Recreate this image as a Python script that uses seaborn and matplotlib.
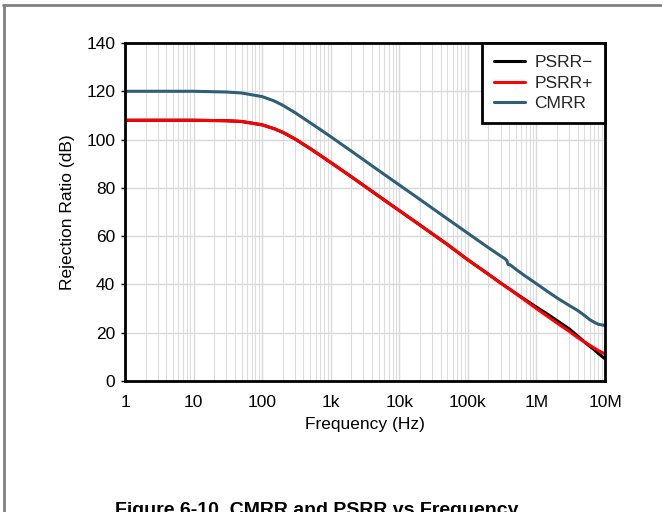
import numpy as np
import pandas as pd
import matplotlib
matplotlib.use("Agg")
import matplotlib.pyplot as plt
from matplotlib.lines import Line2D
from matplotlib.ticker import FixedLocator, LogLocator, NullFormatter
import seaborn as sns

# ---- data ----
freq = [1, 10, 30, 50, 100, 150, 200, 300, 500, 700,
        1e3, 2e3, 5e3, 1e4, 2e4, 5e4, 1e5, 2e5, 3e5, 3.5e5,
        3.7e5, 3.85e5, 4.1e5, 5e5, 7e5, 1e6, 1.5e6, 2e6, 3e6, 4e6,
        5e6, 6e6, 7e6, 8e6, 1e7]

cmrr = [120.0, 120.0, 119.7, 119.3, 117.8, 116.0, 114.2, 111.2, 107.0, 104.2,
        101.2, 95.2, 87.2, 81.2, 75.2, 67.2, 61.2, 55.2, 51.8, 50.6,
        49.9, 48.3, 48.2, 46.3, 43.3, 40.3, 36.8, 34.4, 31.3, 29.2,
        27.2, 25.4, 24.3, 23.5, 23.0]

psrr_p = [108.0, 108.0, 107.8, 107.5, 106.1, 104.5, 103.0, 100.3, 96.3, 93.5,
          90.5, 84.6, 76.6, 70.6, 64.6, 56.6, 50.2, 44.2, 40.6, 39.3,
          38.8, 38.5, 38.0, 36.2, 33.2, 30.0, 26.5, 24.0, 20.6, 18.0,
          16.2, 14.8, 13.6, 12.6, 11.2]

psrr_m = [108.0, 108.0, 107.8, 107.5, 106.1, 104.5, 103.0, 100.3, 96.3, 93.5,
          90.5, 84.6, 76.6, 70.6, 64.6, 56.6, 50.2, 44.2, 40.6, 39.3,
          38.8, 38.5, 38.0, 36.3, 33.5, 30.6, 27.4, 25.0, 21.6, 18.6,
          16.2, 14.4, 12.9, 11.4, 9.2]

xticks = [1, 10, 100, 1e3, 1e4, 1e5, 1e6, 1e7]
xticklabels = ["1", "10", "100", "1k", "10k", "100k", "1M", "10M"]
yticks = [0, 20, 40, 60, 80, 100, 120, 140]

series_names = ["PSRR\u2212", "PSRR+", "CMRR"]
colors = {"PSRR\u2212": "#000000", "PSRR+": "#FF0000", "CMRR": "#2E5E78"}

df = pd.concat([
    pd.DataFrame({"freq": freq, "dB": psrr_m, "series": series_names[0]}),
    pd.DataFrame({"freq": freq, "dB": psrr_p, "series": series_names[1]}),
    pd.DataFrame({"freq": freq, "dB": cmrr, "series": series_names[2]}),
])

sns.set_theme(style="white")
plt.rcParams["font.family"] = ["Liberation Sans", "DejaVu Sans"]

fig = plt.figure(figsize=(6.62, 5.12), dpi=100)
ax = fig.add_axes([125 / 662, 1 - 381 / 512, 480 / 662, 338 / 512])

# black first so the red trace lies over it, as in the reference
for name in ["PSRR\u2212", "PSRR+", "CMRR"]:
    sub = df[df["series"] == name]
    sns.lineplot(data=sub, x="freq", y="dB", color=colors[name], lw=2.2,
                 ax=ax, legend=False)

ax.set_xscale("log")
ax.set_xlim(1, 1e7)
ax.set_ylim(0, 140)
ax.xaxis.set_major_locator(FixedLocator(xticks))
ax.set_xticklabels(xticklabels)
ax.xaxis.set_minor_locator(LogLocator(base=10, subs=np.arange(2, 10), numticks=100))
ax.xaxis.set_minor_formatter(NullFormatter())
ax.set_yticks(yticks)

ax.grid(True, which="major", color="#D9D9D9", lw=1.0)
ax.grid(True, which="minor", axis="x", color="#DDDDDD", lw=0.8)
ax.set_axisbelow(True)

for s in ax.spines.values():
    s.set_color("black")
    s.set_linewidth(2.0)

ax.tick_params(axis="x", which="both", length=0, pad=10, labelsize=12.5, colors="black")
ax.tick_params(axis="y", which="major", length=3, width=1, pad=4, labelsize=12.5,
               colors="black", left=True)
ax.set_xlabel("Frequency (Hz)", fontsize=12.5, labelpad=5, color="black")
ax.set_ylabel("Rejection Ratio (dB)", fontsize=12.5, labelpad=8, color="black")

handles = [Line2D([0], [0], color=colors[n], lw=2.2) for n in series_names]
leg = ax.legend(handles, series_names, loc="upper right", bbox_to_anchor=(1.0, 1.0),
                frameon=True, fancybox=False, edgecolor="black", framealpha=1,
                fontsize=12.5, handlelength=1.8, handletextpad=0.55, labelspacing=0.3,
                borderpad=0.7, borderaxespad=0.0)
leg.get_frame().set_linewidth(2.0)

# outer page frame
fig.add_artist(Line2D([3 / 662, 1.0], [1 - 5 / 512, 1 - 5 / 512],
                      transform=fig.transFigure, color="#808080", lw=2))
fig.add_artist(Line2D([4 / 662, 4 / 662], [0, 1 - 5 / 512],
                      transform=fig.transFigure, color="#808080", lw=2))

# caption, cut by the bottom edge as in the reference
fig.text(115 / 662, 1 - 502 / 512, "Figure 6-10. CMRR and PSRR vs Frequency",
         ha="left", va="top", fontsize=14, fontweight="bold", color="black")

fig.savefig("out.png", dpi=100)
